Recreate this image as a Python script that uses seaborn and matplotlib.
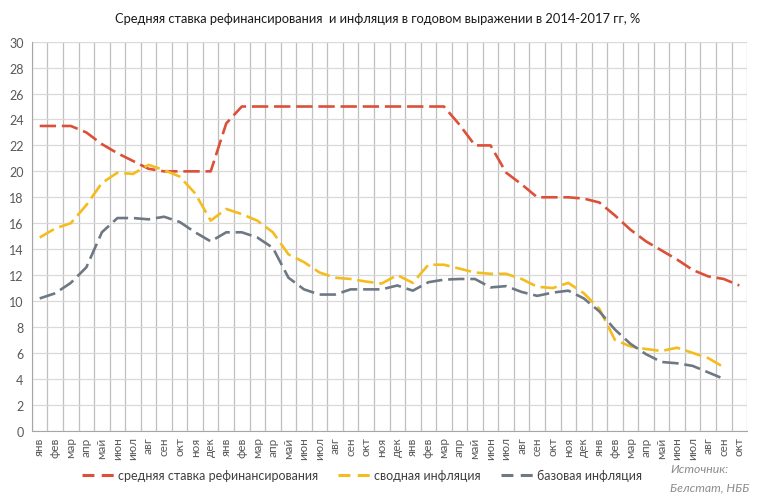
import numpy as np
import pandas as pd
import matplotlib.pyplot as plt
import seaborn as sns

# months Jan 2014 - Oct 2017
month_names = ['янв', 'фев', 'мар', 'апр', 'май', 'июн',
               'июл', 'авг', 'сен', 'окт', 'ноя', 'дек']
months = month_names * 3 + month_names[:10]

refin_rate = [23.5, 23.5, 23.5, 23.0, 22.1, 21.4, 20.8, 20.2, 20.0, 20.0, 20.0, 20.0,
              23.7, 25, 25, 25, 25, 25, 25, 25, 25, 25, 25, 25,
              25, 25, 25, 23.6, 22.0, 22.0, 19.9, 19.0, 18.0, 18.0, 18.0, 17.9,
              17.6, 16.6, 15.5, 14.6, 13.9, 13.2, 12.4, 11.9, 11.7, 11.2]
cpi = [14.9, 15.6, 16.0, 17.4, 19.1, 19.9, 19.8, 20.5, 20.1, 19.6, 18.3, 16.2,
       17.1, 16.7, 16.2, 15.3, 13.6, 13.0, 12.2, 11.8, 11.7, 11.5, 11.35, 12.0,
       11.4, 12.8, 12.8, 12.5, 12.2, 12.1, 12.1, 11.7, 11.1, 11.0, 11.4, 10.6,
       9.4, 7.0, 6.5, 6.3, 6.15, 6.4, 6.0, 5.6, 4.9, np.nan]
core_cpi = [10.2, 10.6, 11.4, 12.6, 15.3, 16.4, 16.4, 16.3, 16.5, 16.1, 15.3, 14.6,
            15.3, 15.3, 14.9, 14.1, 11.8, 10.9, 10.5, 10.5, 10.9, 10.9, 10.9, 11.2,
            10.8, 11.45, 11.65, 11.7, 11.7, 11.05, 11.15, 10.7, 10.4, 10.65, 10.8, 10.2,
            9.2, 7.8, 6.7, 5.9, 5.3, 5.2, 5.0, 4.5, 4.0, np.nan]

series_names = ['средняя ставка рефинансирования', 'сводная инфляция', 'базовая инфляция']
colors = ['#DC5039', '#F4BC1C', '#6E7883']

df = pd.DataFrame({'idx': np.arange(len(months)),
                   series_names[0]: refin_rate,
                   series_names[1]: cpi,
                   series_names[2]: core_cpi})
long = df.melt(id_vars='idx', var_name='series', value_name='value')

sns.set_style('white')
plt.rcParams['font.family'] = ['Lato', 'DejaVu Sans']

fig = plt.figure(figsize=(7.6, 5.02), dpi=100)
ax = fig.add_axes([0.042, 0.14, 0.941, 0.775])

sns.lineplot(data=long, x='idx', y='value', hue='series', palette=colors,
             hue_order=series_names, linewidth=1.9, ax=ax, legend=False)
for line in ax.get_lines():
    line.set_dashes([6.2, 2.2])
    line.set_dash_capstyle('butt')

ax.set_xlim(-0.5, len(months) - 0.5)
ax.set_ylim(0, 30)
ax.set_yticks(range(0, 31, 2))
ax.set_xticks(np.arange(len(months)))
ax.set_xticklabels(months, rotation=90, fontsize=8.5, color='#595959')
ax.set_xticks(np.arange(len(months) + 1) - 0.5, minor=True)
ax.tick_params(axis='y', labelsize=9, colors='#595959', length=0, pad=6)
ax.tick_params(axis='x', which='both', length=0, pad=4)
ax.grid(axis='y', color='#D9D9D9', linewidth=0.9)
ax.grid(axis='x', which='minor', color='#BFBFBF', linewidth=0.9)
ax.grid(axis='x', which='major', visible=False)
ax.set_xlabel('')
ax.set_ylabel('')
for side in ['top', 'right']:
    ax.spines[side].set_visible(False)
ax.spines['left'].set_color('#A6A6A6')
ax.spines['bottom'].set_color('#A6A6A6')

fig.text(0.497, 0.962, 'Средняя ставка рефинансирования  и инфляция в годовом выражении в 2014-2017 гг, %',
         ha='center', va='center', fontsize=9.3, color='#1A1A1A')

handles = [plt.Line2D([], [], color=c, linewidth=2.2, dashes=[3.9, 2.4],
                      dash_capstyle='butt') for c in colors]
fig.legend(handles, series_names, loc='center', bbox_to_anchor=(0.476, 0.051), ncol=3,
           frameon=False, fontsize=9, handlelength=2.6, handletextpad=0.3,
           columnspacing=1.6, labelcolor='#404040')

fig.text(0.882, 0.047, 'Источник:\nБелстат, НББ', ha='left', va='center',
         fontsize=8.8, style='italic', color='#8C8C8C', linespacing=1.8)

fig.savefig('out.png', dpi=100)
